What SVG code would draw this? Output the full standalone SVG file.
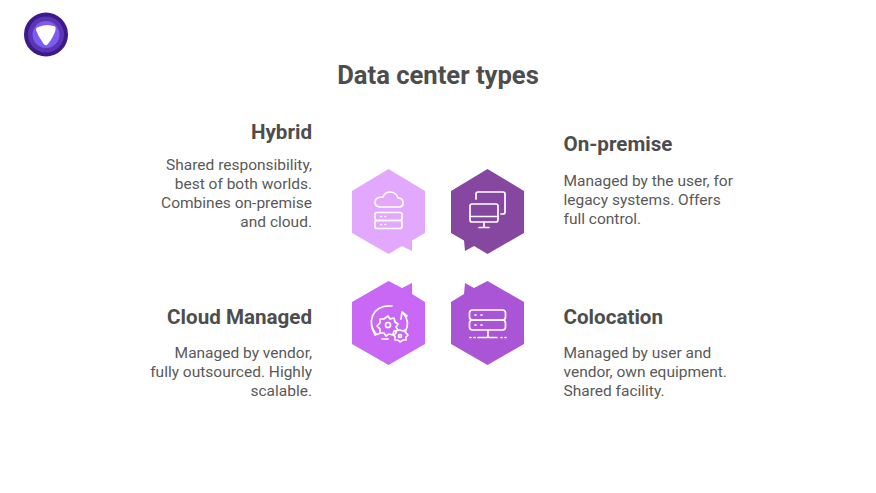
<svg xmlns="http://www.w3.org/2000/svg" width="876" height="493" viewBox="0 0 876 493">
<defs><style>
text{font-family:Roboto,"Liberation Sans",sans-serif;fill:#4d4d4d}
.t{font-size:25.6px;font-weight:700;text-anchor:middle}
.h{font-size:20.6px;font-weight:700}
.b{font-size:15.5px;fill:#595959}
.e{text-anchor:end}
.i{fill:none;stroke:#fff;stroke-width:1.7;stroke-linecap:round;stroke-linejoin:round}
</style></defs>
<rect width="876" height="493" fill="#fff"/>
<g id="logo">
<circle cx="46" cy="34.500" r="22" fill="#3c1a8c"/>
<circle cx="46" cy="34.500" r="18" fill="#5b35b5"/>
<circle cx="46" cy="34.500" r="13.500" fill="#7d5cf0"/>
<path d="M37 27.500Q46 23 55 26.500Q56.500 28 54.500 33Q51 41 47 45Q45 46 43 43Q38 36 36 30Q36 28 37 27.500Z" fill="#fff"/>
</g>
<text class="t" x="438" y="83.500">Data center types</text>
<g id="connectors"/>
<g id="hybrid">
<path d="M388.500 169L425 191V233L412 240.500V251L402 246L388.500 254L352 233V191Z" fill="#e2a8fd"/>
<g class="i">
<path d="M381 207H399Q403 207 403 203Q403 198 398 198Q396 192 390 192Q385 192 383 197Q375 197 375 202.500Q375 207 381 207Z"/>
<rect x="375" y="212.500" width="27" height="8" rx="2"/><rect x="375" y="220.500" width="27" height="8" rx="2"/>
<path d="M381 216.500H381.500M385 216.500H385.500M381 224.500H381.500M385 224.500H385.500"/>
</g>
<text class="h e" x="312" y="139">Hybrid</text>
<text class="b e"><tspan x="312" y="170">Shared responsibility,</tspan><tspan x="312" y="189">best of both worlds.</tspan><tspan x="312" y="208">Combines on-premise</tspan><tspan x="312" y="227">and cloud.</tspan></text>
</g>
<g id="on-premise">
<path d="M487.500 169L524 191V233L487.500 254L474 246L465 251L464 240.500L451 233V191Z" fill="#8547a0"/>
<g class="i">
<path d="M476 199V194Q476 192 478 192H503Q505 192 505 194V212Q505 214 503 214H501"/>
<rect x="470" y="204" width="28" height="18" rx="2"/>
<path d="M470 216.500H498M484 222V227M479 227.500H489"/>
</g>
<text class="h" x="563.500" y="151">On-premise</text>
<text class="b"><tspan x="563.500" y="186">Managed by the user, for</tspan><tspan x="563.500" y="205">legacy systems. Offers</tspan><tspan x="563.500" y="224">full control.</tspan></text>
</g>
<g id="cloud-managed">
<path d="M388.500 281L402 288L412 283V294L425 302V344L388.500 365L352 344V302Z" fill="#c968f5"/>
<g class="i">
<path d="M392 306Q377 305 372.500 316Q369 326 376 334M372 328L375 335L381 333M403 313Q411 322 405 332M401 319L402 312L407 316M382 339H388"/>
<path d="M388 316L390 319L394 318L395 322L398 324L396 327L398 330L394 331L393 335L389 334L386 336L384 333L380 333L380 329L377 326L380 323L380 319L384 319Z"/>
<circle cx="388" cy="325" r="2.500"/>
<path d="M400 330L403 331L405 330L406 333L408 335L406 337L406 340L403 340L400 342L398 340L395 340L395 337L394 335L396 333L396 331Z"/>
<circle cx="400" cy="336" r="1.500"/>
</g>
<text class="h e" x="312" y="323.500">Cloud Managed</text>
<text class="b e"><tspan x="312" y="358">Managed by vendor,</tspan><tspan x="312" y="377">fully outsourced. Highly</tspan><tspan x="312" y="396">scalable.</tspan></text>
</g>
<g id="colocation">
<path d="M487.500 281L524 302V344L487.500 365L451 344V302L464 294L465 283L474 288Z" fill="#aa55d6"/>
<g class="i">
<rect x="469.500" y="310" width="36" height="10" rx="3"/><rect x="469.500" y="320" width="36" height="10" rx="3"/>
<path d="M475 315H476M481 315H482M475 325H476M481 325H482M488 330V337M478 337.500H497M470 337.500H471M474 337.500H475M501 337.500H502M505 337.500H506"/>
</g>
<text class="h" x="563.500" y="323.500">Colocation</text>
<text class="b"><tspan x="563.500" y="358">Managed by user and</tspan><tspan x="563.500" y="377">vendor, own equipment.</tspan><tspan x="563.500" y="396">Shared facility.</tspan></text>
</g>
</svg>
